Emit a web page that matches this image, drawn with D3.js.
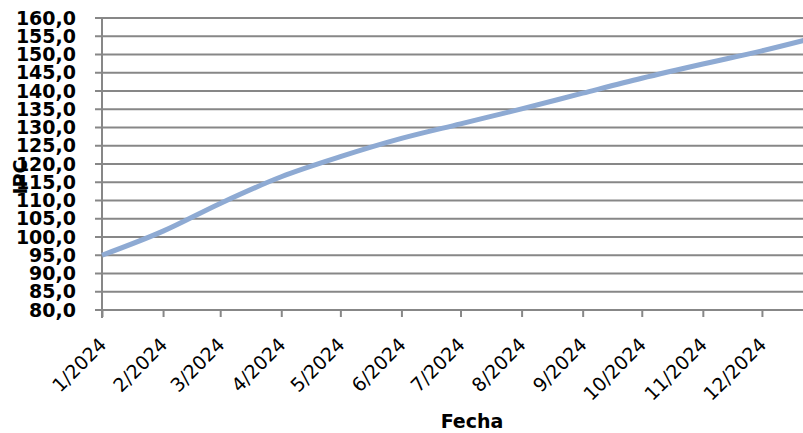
<!DOCTYPE html>
<html>
<head>
<meta charset="utf-8">
<script src="https://cdn.jsdelivr.net/npm/d3@7"></script>
<style>
  body { margin: 0; background: #fff; }
  svg { display: block; }
</style>
</head>
<body>
<script>
// fechas (primer día de cada mes) y valores
const fechas = ['2024-01-01', '2024-02-01', '2024-03-01', '2024-04-01', '2024-05-01', '2024-06-01',
  '2024-07-01', '2024-08-01', '2024-09-01', '2024-10-01', '2024-11-01', '2024-12-01', '2025-01-01'];
const valores = [95.0, 101.6, 109.2, 116.5, 122.0, 127.0, 131.0, 135.1, 139.4, 143.5, 147.4, 151.0, 155.2];
const yTicks = [80, 85, 90, 95, 100, 105, 110, 115, 120, 125, 130, 135, 140, 145, 150, 155, 160];
const xTicks = fechas.slice(0, 12);

const svg = d3.select('body').append('svg').attr('width', 803).attr('height', 433);

const parse = d3.timeParse('%Y-%m-%d');
const datos = fechas.map((f, i) => ({ fecha: parse(f), valor: valores[i] }));

// ~1.97 px por día, el área de trazado sigue más allá del borde derecho
const x = d3.scaleTime().domain([parse('2024-01-01'), parse('2025-01-01')]).range([102, 823]);
const y = d3.scaleLinear().domain([80, 160]).range([310, 18]);

const gris = '#878787';

// líneas de la cuadrícula
svg.append('g').selectAll('line').data(yTicks).join('line')
  .attr('x1', 95).attr('x2', 803)
  .attr('y1', d => y(d)).attr('y2', d => y(d))
  .style('stroke', gris).style('stroke-width', 2);

// eje Y
const yAxis = svg.append('g').attr('transform', 'translate(102,0)')
  .call(d3.axisLeft(y).tickValues(yTicks).tickSize(0).tickPadding(26)
    .tickFormat(d => d3.format('.1f')(d).replace('.', ',')));
yAxis.select('.domain').remove();
yAxis.selectAll('text')
  .style('font-family', 'DejaVu Sans').style('font-weight', 'bold')
  .style('font-size', '19px').style('fill', '#000');
svg.append('line').attr('x1', 102).attr('x2', 102).attr('y1', 18).attr('y2', 318)
  .style('stroke', gris).style('stroke-width', 2);

// eje X
const xAxis = svg.append('g').attr('transform', 'translate(0,310)')
  .call(d3.axisBottom(x).tickValues(xTicks.map(parse)).tickSize(7)
    .tickFormat(d3.timeFormat('%-m/%Y')));
xAxis.select('.domain').remove();
xAxis.selectAll('.tick line').style('stroke', gris).style('stroke-width', 2);
xAxis.selectAll('text')
  .attr('x', 0).attr('y', 0).attr('dy', 0)
  .attr('transform', 'translate(5,36) rotate(-45)')
  .style('text-anchor', 'end')
  .style('font-family', 'DejaVu Sans').style('font-size', '19px').style('fill', '#000');

// serie
svg.append('path').datum(datos)
  .attr('d', d3.line().x(d => x(d.fecha)).y(d => y(d.valor)).curve(d3.curveMonotoneX))
  .style('fill', 'none').style('stroke', '#8eaad3').style('stroke-width', 5);

// títulos
svg.append('text').attr('x', 472).attr('y', 428).attr('text-anchor', 'middle')
  .style('font-family', 'DejaVu Sans').style('font-weight', 'bold').style('font-size', '19px')
  .text('Fecha');
svg.append('text').attr('transform', 'translate(27,177) rotate(-90)').attr('text-anchor', 'middle')
  .style('font-family', 'DejaVu Sans').style('font-weight', 'bold').style('font-size', '19px')
  .text('IPC');
</script>
</body>
</html>
